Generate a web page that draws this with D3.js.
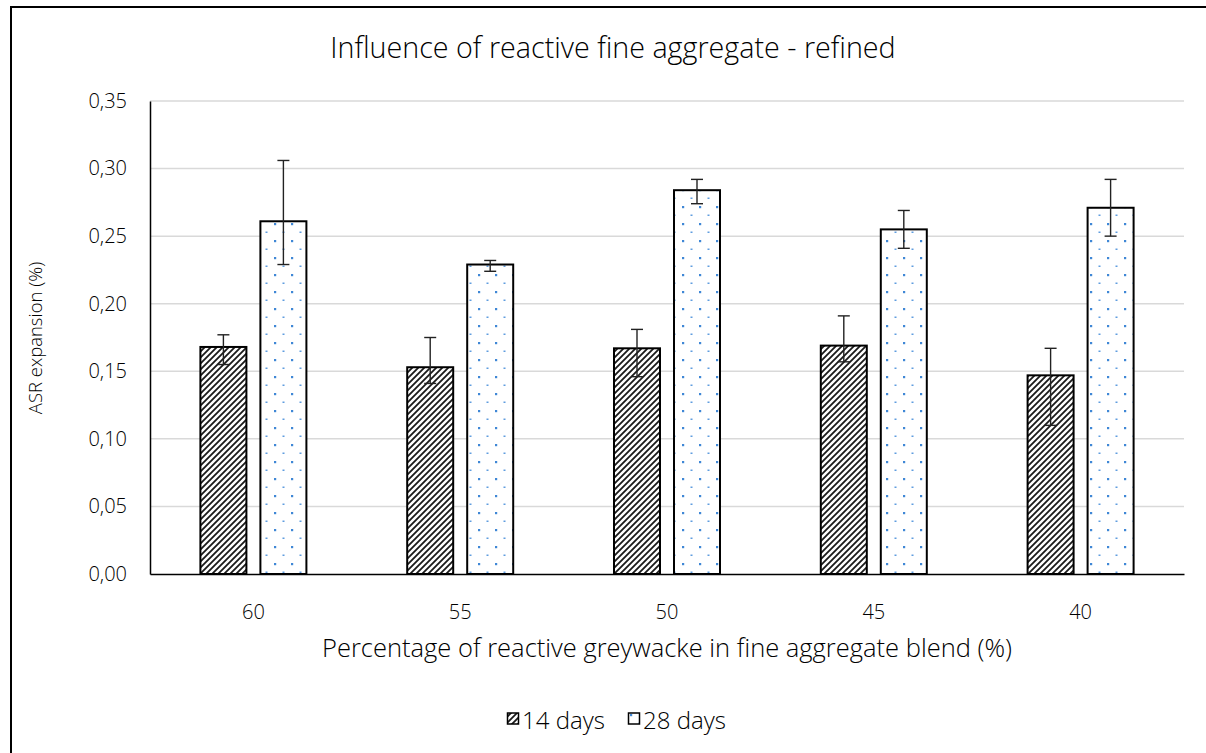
<!DOCTYPE html>
<html>
<head>
<meta charset="utf-8">
<script src="https://cdn.jsdelivr.net/npm/d3@7"></script>
<style>
  html, body { margin: 0; padding: 0; background: #fff; overflow: hidden; }
  svg { display: block; }
  svg text { font-family: "Open Sans", "Noto Sans", sans-serif; fill: #000; }
</style>
</head>
<body>
<svg id="chart" width="1206" height="753"></svg>
<script>
// Blend percentages on the x axis
const categories = ["60", "55", "50", "45", "40"];
const seriesNames = ["14 days", "28 days"];
// Mean ASR expansion (%)
const days14 = [0.168, 0.153, 0.167, 0.169, 0.147];
const days28 = [0.261, 0.229, 0.284, 0.255, 0.271];
// Error bar extents (low / high)
const days14Low  = [0.155, 0.141, 0.146, 0.157, 0.110];
const days14High = [0.177, 0.175, 0.181, 0.191, 0.167];
const days28Low  = [0.229, 0.224, 0.274, 0.241, 0.250];
const days28High = [0.306, 0.232, 0.292, 0.269, 0.292];
const yTicks = [0, 0.05, 0.10, 0.15, 0.20, 0.25, 0.30, 0.35];

const svg = d3.select("#chart");
const plot = { left: 150, right: 1184, top: 101, bottom: 574 };

// Outer chart frame (left and top edges fall inside the view)
svg.append("path")
  .attr("d", "M11,760 V7 H1210")
  .attr("fill", "none").attr("stroke", "#000").attr("stroke-width", 2);

// Fill patterns
const defs = svg.append("defs");
const hatch = defs.append("pattern")
  .attr("id", "hatch").attr("patternUnits", "userSpaceOnUse")
  .attr("width", 6).attr("height", 6);
hatch.append("rect").attr("width", 6).attr("height", 6).attr("fill", "#fff");
hatch.append("path")
  .attr("d", "M-1.5,1.5 l3,-3 M0,6 l6,-6 M4.5,7.5 l3,-3")
  .attr("stroke", "#1a1a1a").attr("stroke-width", 1.8);

const dots = defs.append("pattern")
  .attr("id", "dots").attr("patternUnits", "userSpaceOnUse")
  .attr("width", 17).attr("height", 17);
dots.append("rect").attr("width", 17).attr("height", 17).attr("fill", "#fff");
dots.append("rect").attr("x", 2).attr("y", 2).attr("width", 2.2).attr("height", 2.2).attr("fill", "#3f87d6");
dots.append("rect").attr("x", 10.5).attr("y", 10.5).attr("width", 2).attr("height", 1.5).attr("fill", "#5f9ddf");

const x = d3.scaleBand().domain(categories).range([plot.left, plot.right]);
const y = d3.scaleLinear().domain([0, 0.35]).range([plot.bottom, plot.top]);
const barW = 46;
const offset = 30;

// Gridlines
svg.append("g").selectAll("line")
  .data(yTicks.filter(d => d > 0))
  .join("line")
  .attr("x1", plot.left).attr("x2", plot.right)
  .attr("y1", d => y(d)).attr("y2", d => y(d))
  .attr("stroke", "#d9d9d9").attr("stroke-width", 1.5);

// Y axis
const yAxis = d3.axisLeft(y).tickValues(yTicks)
  .tickFormat(d => d3.format(".2f")(d).replace(".", ","))
  .tickSize(0).tickPadding(23);
const gy = svg.append("g").attr("transform", `translate(${plot.left},0)`).call(yAxis);
gy.attr("font-family", null).attr("font-size", null);
gy.select(".domain").attr("stroke", "#000").attr("stroke-width", 1.5);
gy.selectAll("text").style("font-size", "20px").style("font-weight", 300);

// Bars
const rows = categories.map((c, i) => ({
  cat: c,
  bars: [
    { s: seriesNames[0], v: days14[i], lo: days14Low[i], hi: days14High[i], fill: "url(#hatch)" },
    { s: seriesNames[1], v: days28[i], lo: days28Low[i], hi: days28High[i], fill: "url(#dots)" }
  ]
}));
const cx = (cat, s) => x(cat) + x.bandwidth() / 2 + (s === seriesNames[0] ? -offset : offset);

const groups = svg.append("g").selectAll("g").data(rows).join("g");
groups.selectAll("rect").data(d => d.bars.map(b => ({ ...b, cat: d.cat })))
  .join("rect")
  .attr("x", d => cx(d.cat, d.s) - barW / 2)
  .attr("y", d => y(d.v))
  .attr("width", barW)
  .attr("height", d => y(0) - y(d.v))
  .attr("fill", d => d.fill)
  .attr("stroke", "#000").attr("stroke-width", 2);

// Error bars
const eb = groups.selectAll("g.err").data(d => d.bars.map(b => ({ ...b, cat: d.cat })))
  .join("g").attr("class", "err")
  .attr("stroke", "#222").attr("stroke-width", 1.4);
eb.append("line")
  .attr("x1", d => cx(d.cat, d.s)).attr("x2", d => cx(d.cat, d.s))
  .attr("y1", d => y(d.lo)).attr("y2", d => y(d.hi));
eb.append("line")
  .attr("x1", d => cx(d.cat, d.s) - 6).attr("x2", d => cx(d.cat, d.s) + 6)
  .attr("y1", d => y(d.hi)).attr("y2", d => y(d.hi));
eb.append("line")
  .attr("x1", d => cx(d.cat, d.s) - 6).attr("x2", d => cx(d.cat, d.s) + 6)
  .attr("y1", d => y(d.lo)).attr("y2", d => y(d.lo));

// X axis
const xAxis = d3.axisBottom(x).tickSize(0).tickPadding(31);
const gx = svg.append("g").attr("transform", `translate(0,${plot.bottom})`).call(xAxis);
gx.attr("font-family", null).attr("font-size", null);
gx.select(".domain").attr("stroke", "#000").attr("stroke-width", 1.5);
gx.selectAll("text").style("font-size", "20px").style("font-weight", 300);

// Titles
svg.append("text")
  .attr("x", 613).attr("y", 58).attr("text-anchor", "middle")
  .style("font-size", "28.7px").style("font-weight", 300)
  .text("Influence of reactive fine aggregate - refined");
svg.append("text")
  .attr("x", 667).attr("y", 657).attr("text-anchor", "middle")
  .style("font-size", "25.5px").style("font-weight", 300)
  .text("Percentage of reactive greywacke in fine aggregate blend (%)");
svg.append("text")
  .attr("transform", "translate(42,338) rotate(-90)")
  .attr("text-anchor", "middle")
  .style("font-size", "18.5px").style("font-weight", 300)
  .text("ASR expansion (%)");

// Legend
const legend = svg.append("g").attr("transform", "translate(507,729)");
const items = [
  { name: seriesNames[0], fill: "url(#hatch)", x: 0 },
  { name: seriesNames[1], fill: "url(#dots)", x: 121 }
];
const li = legend.selectAll("g").data(items).join("g")
  .attr("transform", d => `translate(${d.x},0)`);
li.append("rect").attr("x", 0.5).attr("y", -16).attr("width", 11).attr("height", 11)
  .attr("fill", d => d.fill).attr("stroke", "#000").attr("stroke-width", 1.5);
li.append("text").attr("x", 15).attr("y", 0)
  .style("font-size", "24px").style("font-weight", 300)
  .text(d => d.name);
</script>
</body>
</html>
